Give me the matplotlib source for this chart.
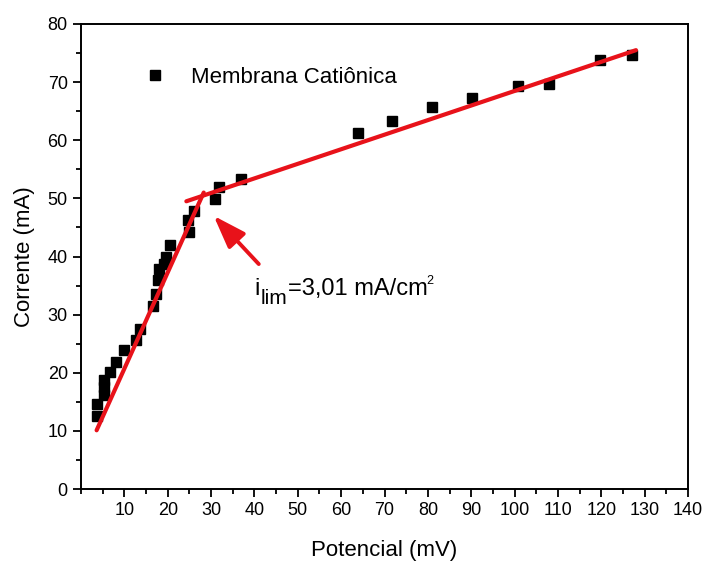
import numpy as np
import matplotlib
matplotlib.use("Agg")
import matplotlib.pyplot as plt
from matplotlib.ticker import MultipleLocator

plt.rcParams['font.family'] = ['Liberation Sans', 'DejaVu Sans']
plt.rcParams['mathtext.default'] = 'regular'

# data
potencial = [3.6, 3.6, 5.3, 5.3, 5.3, 6.6, 8.0, 9.9, 12.6, 13.7, 16.6, 17.2,
             17.7, 17.9, 19.1, 19.5, 20.5, 24.6, 24.8, 26.0, 30.8, 31.8, 36.9,
             63.8, 71.7, 80.9, 90.1, 100.9, 108.0, 119.7, 127.0]
corrente = [12.6, 14.6, 16.1, 17.6, 18.7, 20.1, 21.9, 23.9, 25.6, 27.5, 31.5,
            33.5, 35.9, 37.9, 38.7, 40.0, 41.9, 46.2, 44.2, 47.9, 49.9, 52.0,
            53.3, 61.3, 63.3, 65.8, 67.2, 69.4, 69.6, 73.8, 74.7]

fit1_x = [3.6, 28.3]
fit1_y = [10.1, 51.0]
fit2_x = [24.3, 128.0]
fit2_y = [49.5, 75.5]

arrow_tail = (41.0, 38.7)
arrow_head = (30.6, 47.0)

red = '#e8121a'

fig = plt.figure(figsize=(7.05, 5.61), dpi=100)
ax = fig.add_axes([81/705, 1-489/561, (688-81)/705, (489-24)/561])

ax.plot(potencial, corrente, 's', color='black', markersize=6.5, ls='none',
        label='Membrana Catiônica', zorder=2)
ax.plot(fit1_x, fit1_y, color=red, lw=3, solid_capstyle='round', zorder=3)
ax.plot(fit2_x, fit2_y, color=red, lw=3, solid_capstyle='round', zorder=3)

ax.annotate('', xy=arrow_head, xytext=arrow_tail,
            arrowprops=dict(arrowstyle='-|>,head_length=1.0,head_width=0.35',
                            color=red, lw=2.8, mutation_scale=20, shrinkA=0, shrinkB=0))

# i_lim label: subscript drawn nearly full size, small superscript
tx, ty = 40.0, 33.3
ax.annotate('i', (tx, ty), fontsize=17, va='baseline', ha='left')
ax.annotate('lim', (tx, ty), xytext=(4.5, -6), textcoords='offset points',
            fontsize=15, va='baseline', ha='left')
ax.annotate('=3,01 mA/cm', (tx, ty), xytext=(24, 0), textcoords='offset points',
            fontsize=17, va='baseline', ha='left')
ax.annotate('2', (tx, ty), xytext=(124, 8), textcoords='offset points',
            fontsize=9, va='baseline', ha='left')

ax.set_xlim(0, 140)
ax.set_ylim(0, 80)
ax.set_xticks(np.arange(10, 141, 10))
ax.xaxis.set_minor_locator(MultipleLocator(5))
ax.yaxis.set_major_locator(MultipleLocator(10))
ax.yaxis.set_minor_locator(MultipleLocator(5))
ax.tick_params(which='major', direction='out', length=6, width=1.3, labelsize=13)
ax.tick_params(which='minor', direction='out', length=3.5, width=1.3)
for s in ax.spines.values():
    s.set_linewidth(1.4)

ax.set_xlabel('Potencial (mV)', fontsize=16, labelpad=15)
ax.set_ylabel('Corrente (mA)', fontsize=16, labelpad=9)

ax.legend(loc='center left', bbox_to_anchor=(0.085, 0.885), frameon=False,
          fontsize=16, handlelength=1.0, handletextpad=1.15, borderpad=0)

fig.savefig('out.png', dpi=100)
